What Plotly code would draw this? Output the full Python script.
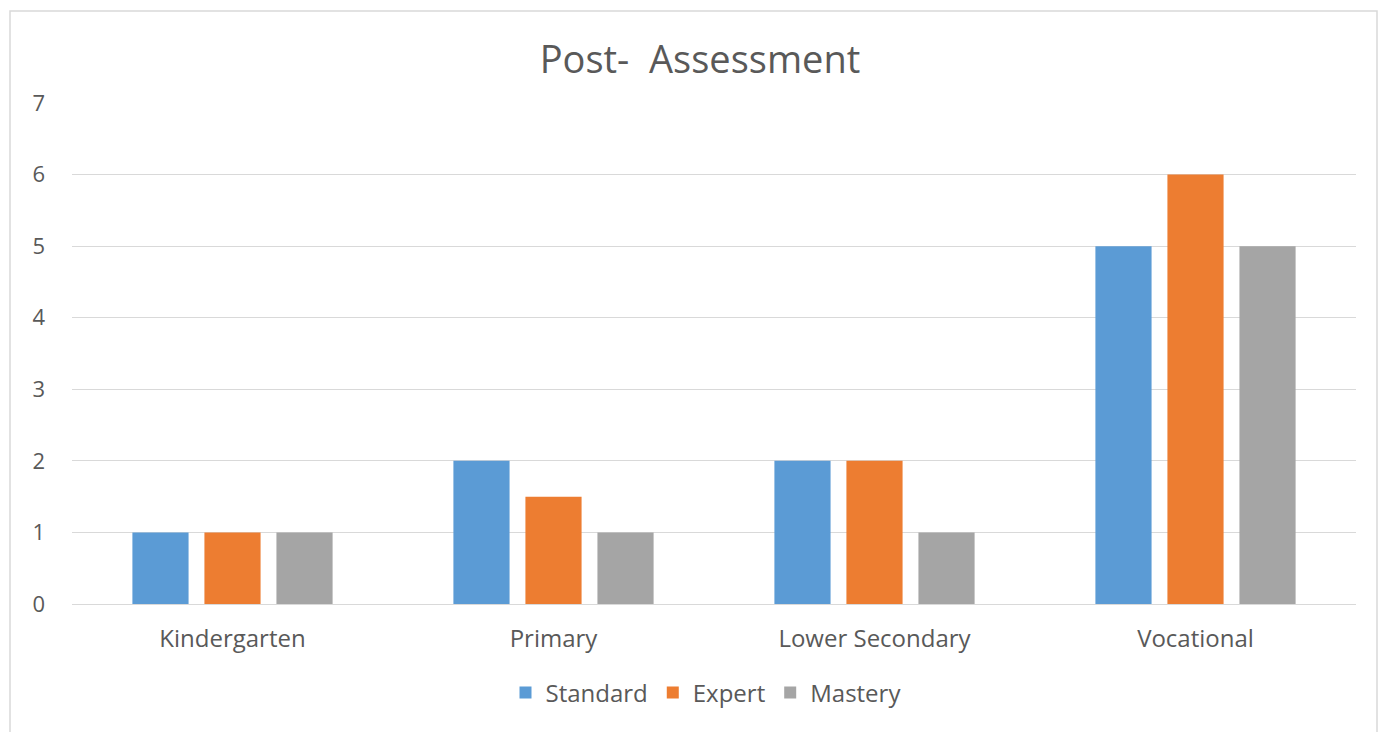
import plotly.graph_objects as go

# Assessment levels and scores per rating
categories = ["Kindergarten", "Primary", "Lower Secondary", "Vocational"]
standard = [1, 2, 2, 5]
expert = [1, 1.5, 2, 6]
mastery = [1, 1, 1, 5]
y_ticks = [0, 1, 2, 3, 4, 5, 6, 7]

W, H = 1383, 732
M_L, M_R, M_T, M_B = 72, 27, 103, 128
FONT = "'Open Sans', sans-serif"
TXT = "#595959"

fig = go.Figure()
for name, vals, color in [
    ("Standard", standard, "#5B9BD5"),
    ("Expert", expert, "#ED7D31"),
    ("Mastery", mastery, "#A5A5A5"),
]:
    fig.add_trace(go.Bar(x=categories, y=vals, name=name, marker_color=color,
                         marker_line_width=0))

pw = W - M_L - M_R
ph = H - M_T - M_B

# chart frame
fig.add_shape(type="rect", xref="paper", yref="paper",
              x0=(10 - M_L) / pw, x1=(1377 - M_L) / pw,
              y0=(H - M_B - 740) / ph, y1=(H - M_B - 11) / ph,
              line=dict(color="#D9D9D9", width=1.5), fillcolor="rgba(0,0,0,0)",
              layer="below")

fig.update_layout(
    width=W, height=H,
    margin=dict(l=M_L, r=M_R, t=M_T, b=M_B, autoexpand=False),
    paper_bgcolor="white", plot_bgcolor="white",
    barmode="group", bargap=0.327, bargroupgap=0.22,
    font=dict(family=FONT, color=TXT, size=22),
    title=dict(text="Post-  Assessment", x=(700 - M_L) / pw, xref="paper",
               xanchor="center", y=1 - 60 / H, yanchor="middle",
               font=dict(size=38, color=TXT, family=FONT)),
    showlegend=True,
    legend=dict(orientation="h", x=(706 - M_L) / pw, xanchor="center",
                y=-(693 - (H - M_B)) / ph, yanchor="middle",
                font=dict(size=24, color=TXT), itemwidth=30,
                traceorder="normal"),
    xaxis=dict(showgrid=False, showline=False, ticks="", ticklabelstandoff=18,
               tickfont=dict(size=24, color=TXT)),
    yaxis=dict(range=[0, 7], tickvals=y_ticks, showgrid=True,
               gridcolor="#D9D9D9", gridwidth=1, zeroline=True,
               zerolinecolor="#D9D9D9", zerolinewidth=1, showline=False,
               ticks="", ticklabelstandoff=26,
               tickfont=dict(size=22, color=TXT)),
)

fig.write_html("out.html")
